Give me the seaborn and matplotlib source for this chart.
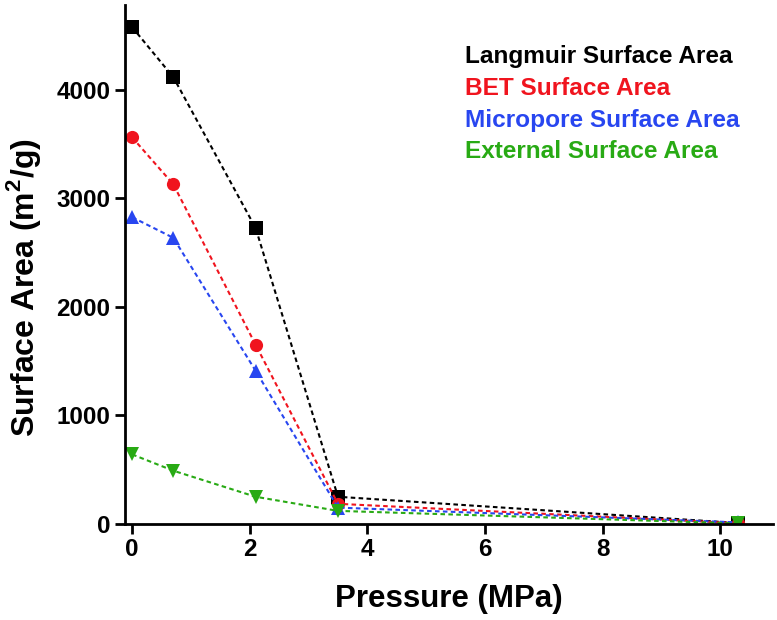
import pandas as pd
import matplotlib
matplotlib.use("Agg")
import matplotlib.pyplot as plt
import seaborn as sns

# data
pressure = [0.0, 0.7, 2.1, 3.5, 10.3]
langmuir = [4575, 4115, 2725, 250, 8]
bet = [3560, 3128, 1650, 185, 6]
micropore = [2825, 2635, 1410, 150, 14]
external = [640, 490, 250, 120, 4]

series_names = ["Langmuir Surface Area", "BET Surface Area",
                "Micropore Surface Area", "External Surface Area"]
series_vals = [langmuir, bet, micropore, external]
colors = ["#000000", "#f0141e", "#2846f0", "#28aa14"]
markers = ["s", "o", "^", "v"]

sns.set_style("ticks")
plt.rcParams["font.family"] = ["Liberation Sans", "DejaVu Sans"]
plt.rcParams["font.weight"] = "bold"
plt.rcParams["mathtext.fontset"] = "custom"
plt.rcParams["mathtext.rm"] = "Liberation Sans:bold"
plt.rcParams["mathtext.bf"] = "Liberation Sans:bold"
for k in ["text.color", "axes.labelcolor", "xtick.color", "ytick.color",
          "axes.edgecolor"]:
    plt.rcParams[k] = "black"

fig = plt.figure(figsize=(7.77, 6.2), dpi=100)
ax = fig.add_axes([0.161, 0.155, 0.834, 0.837])

for name, vals, c, m in zip(series_names, series_vals, colors, markers):
    df = pd.DataFrame({"x": pressure, "y": vals})
    sns.lineplot(x="x", y="y", data=df, ax=ax, color=c, marker=m,
                 markersize=9.5, markeredgewidth=0, linestyle=(0, (2.2, 1.6)),
                 linewidth=1.5, label=name, sort=False, estimator=None)

ax.set_xlim(-0.12, 10.9)
ax.set_ylim(0, 4780)
ax.set_xticks([0, 2, 4, 6, 8, 10])
ax.set_yticks([0, 1000, 2000, 3000, 4000])
ax.tick_params(axis="both", labelsize=17.5, width=2, length=7, direction="out")
for lab in ax.get_xticklabels() + ax.get_yticklabels():
    lab.set_fontweight("bold")
sns.despine(ax=ax)
for s in ["left", "bottom"]:
    ax.spines[s].set_linewidth(2)

ax.set_xlabel("Pressure (MPa)", fontsize=22.5, fontweight="bold", labelpad=16)
ax.set_ylabel(r"Surface Area (m$^{\mathbf{2}}$/g)", fontsize=23,
              fontweight="bold")
ax.yaxis.set_label_coords(-0.1265, 0.455)

leg = ax.legend(loc="upper left", bbox_to_anchor=(0.570, 0.963),
                bbox_transform=fig.transFigure, frameon=False,
                handlelength=0, handletextpad=0, labelspacing=0.36,
                prop={"size": 17.6, "weight": "bold"})
for h in leg.legend_handles:
    h.set_visible(False)
for t, c in zip(leg.get_texts(), colors):
    t.set_color(c)

fig.savefig("out.png", dpi=100)
